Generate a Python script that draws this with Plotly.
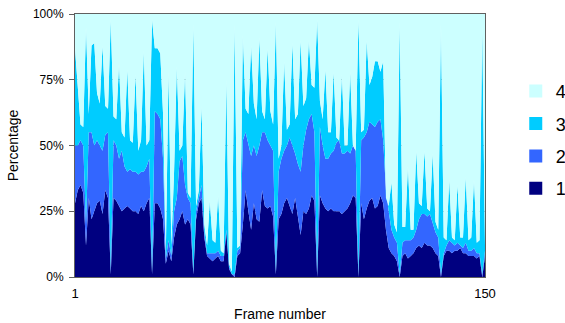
import plotly.graph_objects as go

frames = list(range(1, 151))

# Cumulative boundaries (percent): top of series 1, of 1+2, of 1+2+3
level_1 = [28,33,35,32,12,30,22,25,28,29,24,33,30,1,30,29,27,25,26,27,26,25,25,24,27,
           25,28,30,1,28,28,26,22,5,10,6,15,20,22,25,20,22,20,1,22,28,30,15,8,
           7,6,7,8,6,6,17,3,1,0,8,9,20,33,25,18,28,22,21,33,27,26,27,23,1,
           22,24,28,30,27,24,30,22,16,25,24,26,31,29,0,31,28,26,25,26,25,25,25,24,25,
           26,28,31,30,0,28,22,26,29,30,26,27,31,28,18,11,9,8,6,0,8,9,7,8,9,
           11,12,11,13,12,12,11,9,8,0,8,10,10,9,10,10,11,9,9,8,8,8,7,8,0,8]
level_12 = [50,50,52,50,20,55,55,50,52,50,48,54,55,2,52,50,45,48,42,40,41,40,40,39,40,
            40,42,45,2,63,62,60,45,7,14,8,25,30,44,46,35,30,28,2,25,30,35,17,9,
            9,9,9,10,8,8,18,4,1,1,10,11,52,55,50,46,50,46,50,55,55,52,50,48,2,
            40,45,48,50,53,50,47,43,40,50,56,60,62,55,1,57,50,45,45,47,48,51,52,47,47,
            48,47,50,48,1,52,53,55,59,58,57,59,60,52,33,25,18,15,13,1,13,14,14,14,15,
            18,22,24,24,23,24,20,17,15,1,9,12,14,13,12,13,12,11,13,10,10,11,9,9,1,10]
level_123 = [87,72,58,57,95,62,88,89,70,66,88,65,64,98,61,60,81,55,53,79,52,51,77,48,52,
             86,50,52,98,87,87,85,62,9,78,12,40,80,48,50,78,32,30,96,27,33,65,20,12,
             29,14,13,31,10,9,75,5,2,96,11,12,92,64,62,88,66,60,91,63,60,87,63,58,97,
             45,50,82,56,58,89,60,62,90,65,68,90,73,72,98,67,60,79,55,55,78,53,52,77,50,
             50,78,50,48,98,55,56,90,73,76,82,82,78,82,30,27,36,20,17,97,19,19,42,18,18,
             48,28,27,48,26,25,47,21,18,96,15,14,37,15,14,35,15,15,38,14,15,37,13,14,95,12]

series_names = ["1", "2", "3", "4"]
colors = ["#000080", "#3366FF", "#00CCFF", "#CCFFFF"]

share_1 = level_1
share_2 = [b - a for a, b in zip(level_1, level_12)]
share_3 = [b - a for a, b in zip(level_12, level_123)]
share_4 = [100 - a for a in level_123]
shares = [share_1, share_2, share_3, share_4]

y_ticks = [0, 25, 50, 75, 100]
y_tick_text = ["0%", "25%", "50%", "75%", "100%"]
x_ticks = [1, 150]
x_tick_text = ["1", "150"]

fig = go.Figure()
for name, col, vals in zip(series_names, colors, shares):
    fig.add_trace(go.Scatter(
        x=frames, y=vals, name=name, stackgroup="s", mode="lines",
        line=dict(width=0, color=col), fillcolor=col, showlegend=False,
        hoverinfo="skip"))

# legend swatches
for name, col in reversed(list(zip(series_names, colors))):
    fig.add_trace(go.Scatter(
        x=[None], y=[None], mode="markers", name=name, legendgroup=name,
        marker=dict(symbol="square", size=13, color=col)))

font = "Liberation Sans, Arial, sans-serif"
fig.update_layout(
    width=565, height=323,
    margin=dict(l=75, r=80, t=14, b=46, autoexpand=False),
    paper_bgcolor="white", plot_bgcolor="white",
    font=dict(family=font, color="black", size=12),
    showlegend=True,
    hovermode=False,
    legend=dict(x=1.075, xanchor="left", y=0.776, yanchor="top",
                font=dict(size=18), traceorder="grouped", tracegroupgap=6,
                itemclick=False, bgcolor="rgba(0,0,0,0)"),
    xaxis=dict(range=[1, 150], tickvals=x_ticks, ticktext=x_tick_text,
               showgrid=False, zeroline=False, showline=True, linecolor="#606060",
               mirror=True, ticks="", tickfont=dict(size=13), automargin=False,
               ticklabelstandoff=4, ticklabeloverflow="allow",
               title=dict(text="Frame number", font=dict(size=14), standoff=9)),
    yaxis=dict(range=[0, 100], tickvals=y_ticks, ticktext=y_tick_text,
               showgrid=True, gridcolor="#808080", griddash="dot", zeroline=False,
               showline=True, linecolor="#606060", mirror=True,
               ticks="outside", ticklen=5, tickcolor="#606060", automargin=False,
               tickfont=dict(size=12), ticklabelstandoff=3, ticklabeloverflow="allow",
               title=dict(text="Percentage", font=dict(size=14), standoff=10)),
)

fig.write_html("out.html", config={"displayModeBar": False},
               post_script="document.body.style.margin='0';document.body.style.overflow='hidden';")
